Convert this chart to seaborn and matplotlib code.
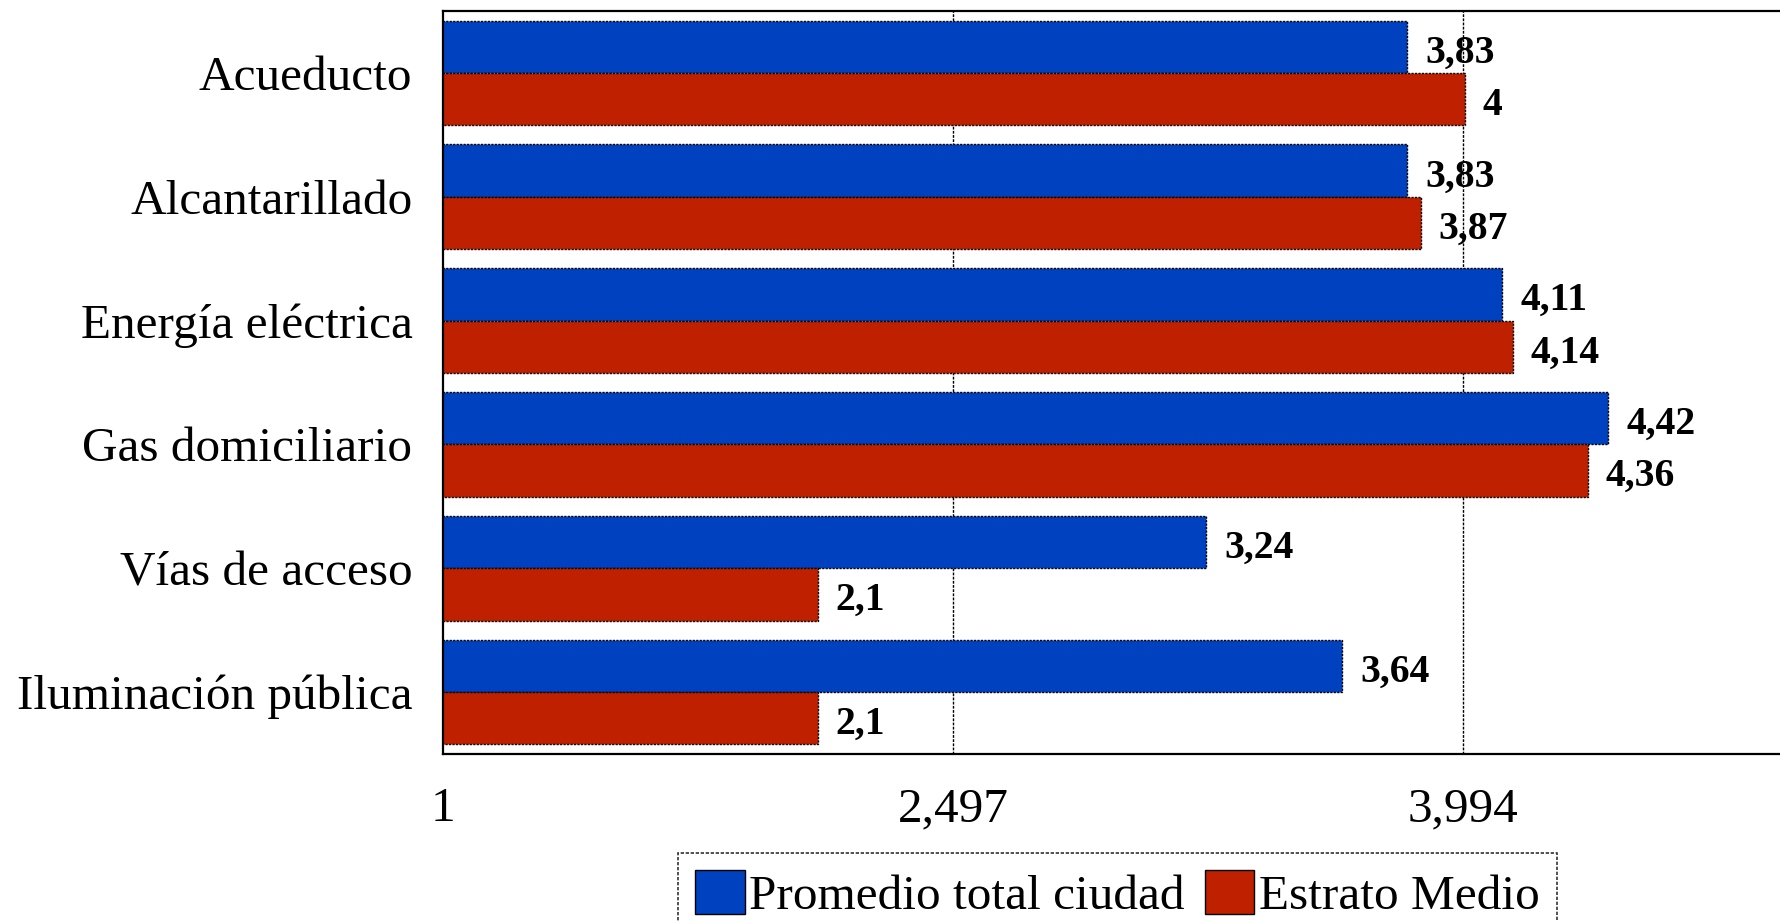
import matplotlib
matplotlib.use("Agg")
import matplotlib.pyplot as plt
import seaborn as sns
import pandas as pd
from matplotlib.patches import Patch

categories = ["Acueducto", "Alcantarillado", "Energía eléctrica",
              "Gas domiciliario", "Vías de acceso", "Iluminación pública"]
promedio_total = [3.83, 3.83, 4.11, 4.42, 3.24, 3.64]
estrato_medio = [4, 3.87, 4.14, 4.36, 2.1, 2.1]
series_names = ["Promedio total ciudad", "Estrato Medio"]
x_ticks = [1, 2.497, 3.994]
x_tick_labels = ["1", "2,497", "3,994"]

BLUE = "#0041BF"
RED = "#BE2000"

sns.set_style("white")
plt.rcParams["font.family"] = ["Liberation Serif", "DejaVu Serif"]
plt.rcParams["text.color"] = "black"
plt.rcParams["xtick.color"] = "black"
plt.rcParams["ytick.color"] = "black"
plt.rcParams["axes.labelcolor"] = "black"

df = pd.DataFrame({
    "cat": categories * 2,
    "value": promedio_total + estrato_medio,
    "serie": [series_names[0]] * len(categories) + [series_names[1]] * len(categories),
})

fig = plt.figure(figsize=(17.8, 9.21), dpi=100)
ax = fig.add_axes([443 / 1780, 1 - 754 / 921, 1 - 443 / 1780, (754 - 11) / 921])

sns.barplot(data=df, y="cat", x="value", hue="serie", orient="h",
            palette=[BLUE, RED], width=0.844, ax=ax, legend=False,
            edgecolor="black", linewidth=1.0, linestyle=(0, (1.5, 1)),
            saturation=1)

ax.set_xlim(1, 4.925)
ax.set_ylim(5.5, -0.5)
ax.set_xticks(x_ticks)
ax.set_xticklabels(x_tick_labels)
ax.set_xlabel("")
ax.set_ylabel("")
ax.tick_params(axis="x", length=0, pad=24, labelsize=35.5, labelcolor="black")
ax.tick_params(axis="y", length=0, pad=22, labelsize=35.5, labelcolor="black")

for xv in x_ticks[1:]:
    ax.axvline(xv, color="black", linewidth=1.0, linestyle=(0, (2, 1)), zorder=0)

for side in ["top", "bottom", "left"]:
    ax.spines[side].set_visible(True)
    ax.spines[side].set_color("black")
    ax.spines[side].set_linewidth(1.6)
    ax.spines[side].set_linestyle((0, (2, 1)))
ax.spines["right"].set_visible(False)

for cont, vals in zip(ax.containers, [promedio_total, estrato_medio]):
    labels = [f"{v:g}".replace(".", ",") for v in vals]
    texts = ax.bar_label(cont, labels=labels, padding=13, fontsize=28.5,
                         fontweight="bold", color="black")
    for t in texts:
        t.xyann = (13, -4.5)

handles = [Patch(facecolor=BLUE, edgecolor="black", linewidth=1.0),
           Patch(facecolor=RED, edgecolor="black", linewidth=1.0)]
leg = fig.legend(handles, series_names, loc="upper left",
                 bbox_to_anchor=(678 / 1780, 1 - 853 / 921), ncol=2,
                 frameon=True, fancybox=False, fontsize=35.5,
                 handlelength=1.0, handleheight=1.0, handletextpad=0.1,
                 columnspacing=0.4, borderpad=0.35, borderaxespad=0)
frame = leg.get_frame()
frame.set_edgecolor("black")
frame.set_linewidth(1.2)
frame.set_linestyle((0, (2, 1)))

fig.savefig("out.png", dpi=100)
